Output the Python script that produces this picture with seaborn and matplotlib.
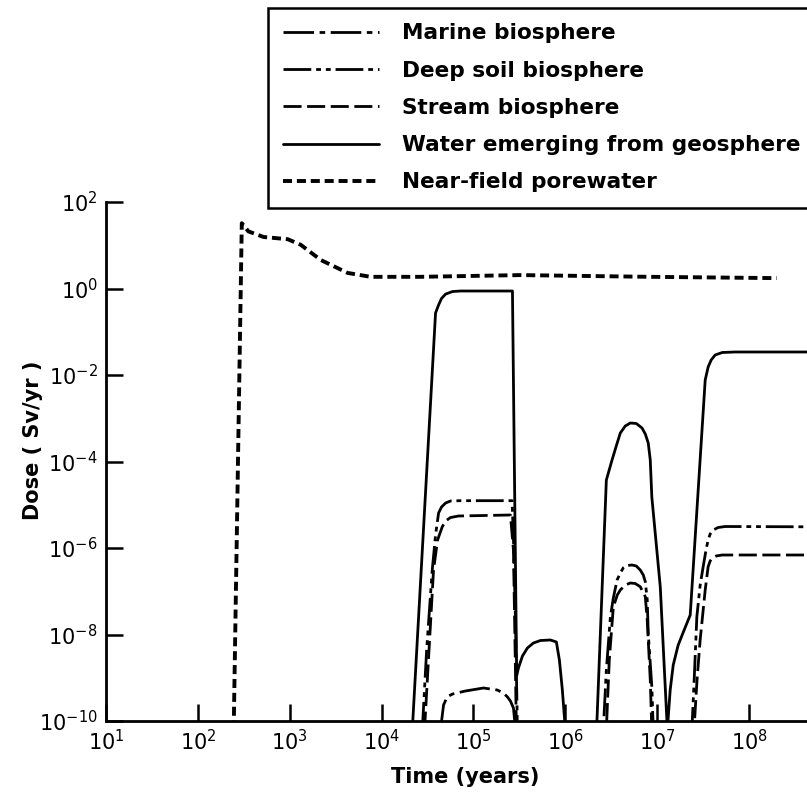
import matplotlib
matplotlib.use("Agg")
import matplotlib.pyplot as plt
import seaborn as sns
import numpy as np
import pandas as pd

# values as log10(time [yr]) and log10(dose [Sv/yr])
near_logt = [2.39, 2.478, 2.55, 2.717, 2.978, 3.12, 3.337, 3.63, 3.88, 4.42, 5.51, 6.92, 8.30]
near_logd = [-10.2, 1.51, 1.32, 1.19, 1.14, 1.01, 0.66, 0.36, 0.27, 0.27, 0.31, 0.27, 0.24]

water_logt = [4.334, 4.587, 4.62, 4.652, 4.696, 4.772, 4.859, 5.424,
              5.47, 5.489, 5.533, 5.587, 5.652, 5.728, 5.837, 5.902, 5.935, 5.967, 6.0,
              6.34, 6.446, 6.508, 6.554, 6.598, 6.652, 6.707, 6.772, 6.834, 6.870, 6.902,
              6.924, 6.941, 7.033, 7.11,
              7.141, 7.174, 7.228, 7.293, 7.359, 7.522, 7.554, 7.587, 7.630, 7.707, 7.848, 8.63]
water_logd = [-10.2, -0.566, -0.38, -0.23, -0.13, -0.07, -0.058, -0.058,
              -8.95, -8.775, -8.497, -8.312, -8.197, -8.139, -8.127, -8.173, -8.59, -9.28, -10.2,
              -10.2, -4.428, -3.965, -3.642, -3.341, -3.179, -3.110, -3.121, -3.225, -3.364, -3.572,
              -3.965, -4.821, -6.90, -10.2,
              -9.28, -8.705, -8.243, -7.896, -7.549, -2.116, -1.815, -1.653, -1.538, -1.480, -1.468, -1.468]

deep_logt = [4.443, 4.49, 4.551, 4.587, 4.62, 4.652, 4.696, 4.75, 4.859, 5.42, 5.435, 5.457, 5.478,
             6.413, 6.446, 6.49, 6.522, 6.563, 6.598, 6.630, 6.674, 6.725, 6.772, 6.815, 6.848,
             6.870, 6.891, 6.902, 6.941, 6.957,
             7.377, 7.402, 7.431, 7.467, 7.50, 7.533, 7.554, 7.576, 7.609, 7.663, 7.739, 8.63]
deep_logd = [-10.2, -8.36, -6.51, -5.70, -5.19, -5.052, -4.96, -4.913, -4.906, -4.906, -5.815, -7.665, -10.2,
             -10.2, -8.82, -7.595, -7.156, -6.74, -6.578, -6.46, -6.405, -6.393, -6.416, -6.509, -6.624,
             -6.78, -7.2, -7.965, -9.21, -10.2,
             -10.2, -9.05, -7.59, -6.86, -6.43, -6.02, -5.815, -5.676, -5.584, -5.526, -5.503, -5.51]

stream_logt = [4.467, 4.565, 4.609, 4.66, 4.696, 4.75, 4.837, 5.402, 5.435, 5.467,
               6.446, 6.478, 6.522, 6.565, 6.598, 6.652, 6.707, 6.761, 6.815, 6.870, 6.891, 6.924, 6.941,
               7.40, 7.433, 7.467, 7.522, 7.554, 7.576, 7.598, 7.641, 7.707, 8.63]
stream_logd = [-10.2, -6.51, -5.815, -5.51, -5.376, -5.295, -5.26, -5.237, -6.05, -10.2,
               -10.2, -8.59, -7.364, -7.087, -6.971, -6.856, -6.809, -6.821, -6.895, -7.126, -7.665, -9.05, -10.2,
               -10.2, -9.05, -8.127, -6.971, -6.432, -6.30, -6.231, -6.185, -6.162, -6.162]

marine_logt = [4.641, 4.674, 4.714, 4.772, 4.913, 5.109, 5.258, 5.326, 5.37, 5.402, 5.435, 5.457]
marine_logd = [-10.2, -9.63, -9.44, -9.376, -9.306, -9.237, -9.283, -9.353, -9.445, -9.538, -9.7, -10.2]

sns.set_style("ticks")
plt.rcParams['font.family'] = ['DejaVu Sans']
plt.rcParams['mathtext.default'] = 'regular'
plt.rcParams['lines.scale_dashes'] = False
plt.rcParams['text.color'] = 'black'
plt.rcParams['axes.labelcolor'] = 'black'

fig = plt.figure(figsize=(8.07, 7.98), dpi=100)
ax = fig.add_axes([106 / 807, 77 / 798, 701 / 807, 519 / 798])

series = [
    ('Marine biosphere', marine_logt, marine_logd, (0, (22, 4, 4, 4)), 2.0),
    ('Deep soil biosphere', deep_logt, deep_logd, (0, (20, 3.5, 3.5, 3.5, 3.5, 3.5)), 2.0),
    ('Stream biosphere', stream_logt, stream_logd, (0, (13, 4)), 2.0),
    ('Water emerging from geosphere', water_logt, water_logd, '-', 2.0),
    ('Near-field porewater', near_logt, near_logd, (0, (6.5, 3.5)), 2.8),
]

for name, lt, ld, ls, lw in series:
    df = pd.DataFrame({'time': 10 ** np.array(lt), 'dose': 10 ** np.array(ld)})
    sns.lineplot(data=df, x='time', y='dose', ax=ax, color='black', linestyle=ls,
                 linewidth=lw, sort=False, estimator=None, label=name)

ax.set_xscale('log')
ax.set_yscale('log')
ax.set_xlim(10, 10 ** 8.63)
ax.set_ylim(1e-10, 1e2)

ax.set_xticks([10 ** k for k in range(1, 9)])
ax.set_xticklabels([f'$10^{{{k}}}$' for k in range(1, 9)])
ax.set_yticks([10.0 ** k for k in range(-10, 3, 2)])
ax.set_yticklabels([f'$10^{{{k}}}$' for k in range(-10, 3, 2)])
ax.minorticks_off()
ax.tick_params(direction='in', length=12, width=1.8, labelsize=15, colors='black', pad=6)

for side in ['top', 'right']:
    ax.spines[side].set_visible(False)
for side in ['left', 'bottom']:
    ax.spines[side].set_linewidth(2)
    ax.spines[side].set_color('black')

ax.set_xlabel('Time (years)', fontsize=15, fontweight='bold')
ax.set_ylabel('Dose ( Sv/yr )', fontsize=15, fontweight='bold')
ax.xaxis.set_label_coords(0.512, -0.088)
ax.yaxis.set_label_coords(-0.09, 0.541)

handles, labels = ax.get_legend_handles_labels()
ax.get_legend().remove()
leg = fig.legend(handles, labels, loc='upper left', bbox_to_anchor=(268 / 807, 1 - 8 / 798),
                 borderaxespad=0, frameon=True, fancybox=False, handlelength=4.4,
                 handletextpad=1.1, labelspacing=0.8, borderpad=0.7,
                 prop={'weight': 'bold', 'size': 15.6})
leg.get_frame().set_edgecolor('black')
leg.get_frame().set_linewidth(1.8)
leg.get_frame().set_alpha(1)

fig.savefig('out.png', dpi=100)
